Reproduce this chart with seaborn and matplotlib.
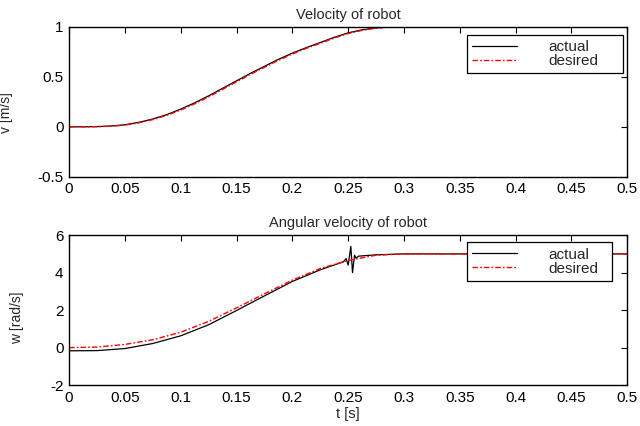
import matplotlib
matplotlib.use("Agg")
import matplotlib.pyplot as plt
import numpy as np
import pandas as pd
import seaborn as sns

# DATA
t_vel = [0, 0.0125, 0.025, 0.0375, 0.05, 0.0625, 0.075, 0.0875, 0.1, 0.1125, 0.125,
         0.1375, 0.15, 0.1625, 0.175, 0.1875, 0.2, 0.2125, 0.225, 0.2375, 0.25,
         0.2625, 0.275, 0.2875, 0.3, 0.35, 0.4, 0.45, 0.5]
v_actual = [0, 0.0, 0.002, 0.008, 0.02, 0.045, 0.078, 0.122, 0.177, 0.24, 0.31,
            0.385, 0.46, 0.535, 0.605, 0.675, 0.737, 0.792, 0.843, 0.895, 0.94,
            0.97, 0.99, 0.998, 1.0, 1.0, 1.0, 1.0, 1.0]
v_desired = [0, 0.0, 0.001, 0.006, 0.017, 0.04, 0.072, 0.115, 0.168, 0.23, 0.30,
             0.375, 0.45, 0.525, 0.595, 0.665, 0.728, 0.785, 0.835, 0.888, 0.933,
             0.965, 0.987, 0.997, 1.0, 1.0, 1.0, 1.0, 1.0]

t_w_act = [0, 0.025, 0.05, 0.075, 0.1, 0.125, 0.15, 0.175, 0.2, 0.225, 0.2458,
           0.2482, 0.25, 0.2524, 0.2539, 0.2557, 0.2572, 0.2593, 0.2637, 0.275,
           0.3, 0.35, 0.4, 0.45, 0.5]
w_actual = [-0.17, -0.16, -0.05, 0.22, 0.63, 1.22, 1.98, 2.76, 3.53, 4.15, 4.58,
            4.75, 4.4, 5.4, 4.0, 4.93, 4.77, 4.88, 4.9, 4.95,
            5.0, 5.0, 5.0, 5.0, 5.0]
t_w_des = [0, 0.025, 0.05, 0.075, 0.1, 0.125, 0.15, 0.175, 0.2, 0.225, 0.25,
           0.275, 0.3, 0.35, 0.4, 0.45, 0.5]
w_desired = [0, 0.03, 0.17, 0.42, 0.82, 1.4, 2.12, 2.87, 3.6, 4.22, 4.65,
             4.93, 5.0, 5.0, 5.0, 5.0, 5.0]

x_ticks = [0, 0.05, 0.1, 0.15, 0.2, 0.25, 0.3, 0.35, 0.4, 0.45, 0.5]
x_labels = ["0", "0.05", "0.1", "0.15", "0.2", "0.25", "0.3", "0.35", "0.4", "0.45", "0.5"]
v_ticks = [-0.5, 0, 0.5, 1]
v_labels = ["-0.5", "0", "0.5", "1"]
w_ticks = [-2, 0, 2, 4, 6]
w_labels = ["-2", "0", "2", "4", "6"]

# STYLE
sns.set_style("white")
plt.rcParams['font.family'] = ['Liberation Sans', 'DejaVu Sans']
plt.rcParams['font.size'] = 11

fig = plt.figure(figsize=(6.4, 4.26), dpi=100)
ax1 = fig.add_axes([0.108, 0.585, 0.872, 0.352])
ax2 = fig.add_axes([0.108, 0.096, 0.872, 0.352])

# legend boxes in axes coords (x0, y0, width, top)
panels = [
    (ax1, t_vel, v_actual, t_vel, v_desired, v_ticks, v_labels, (-0.5, 1),
     "Velocity of robot", "v [m/s]", (-0.10, 0.43), (0.713, 0.0, 0.280, 0.947)),
    (ax2, t_w_act, w_actual, t_w_des, w_desired, w_ticks, w_labels, (-2, 6),
     "Angular velocity of robot", "w [rad/s]", (-0.08, 0.45), (0.713, 0.0, 0.260, 0.953)),
]

for ax, ta, ya, td, yd, yt, yl, ylim, title, ylabel, lab_xy, lbox in panels:
    sns.lineplot(x=ta, y=ya, ax=ax, color='black', lw=0.9, legend=False)
    sns.lineplot(x=td, y=yd, ax=ax, color='#ff0000', lw=1.0,
                 linestyle=(0, (4, 1.5, 1.2, 1.5)), legend=False)
    ax.set_xlim(0, 0.5)
    ax.set_ylim(*ylim)
    ax.set_xticks(x_ticks)
    ax.set_xticklabels(x_labels)
    ax.set_yticks(yt)
    ax.set_yticklabels(yl)
    ax.tick_params(direction='in', length=4, width=0.8, top=True, right=True,
                   labelsize=11, pad=4, colors='black')
    for s in ax.spines.values():
        s.set_color('black')
        s.set_linewidth(1.0)
    ax.set_title(title, fontsize=10.5, pad=6)
    ax.set_ylabel(ylabel, fontsize=10)
    ax.yaxis.set_label_coords(*lab_xy)
    lines = ax.get_lines()
    leg = ax.legend(handles=lines[:2], labels=['actual', 'desired'],
                    loc='upper right', bbox_to_anchor=lbox, mode='expand',
                    fancybox=False, edgecolor='black', framealpha=1,
                    fontsize=11, handlelength=2.9, handletextpad=2.1,
                    borderaxespad=0, labelspacing=0.0, borderpad=0.35)
    leg.get_frame().set_linewidth(0.9)

ax2.set_xlabel("t [s]", fontsize=10.5, labelpad=2)

fig.savefig("out.png", dpi=100)
